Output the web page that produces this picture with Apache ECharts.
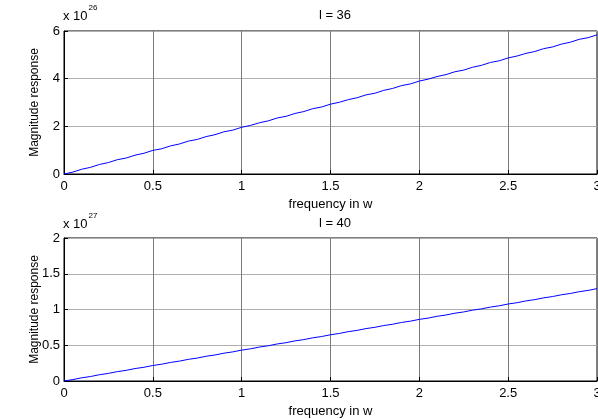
<!DOCTYPE html>
<html>
<head>
<meta charset="utf-8">
<script src="https://cdn.jsdelivr.net/npm/echarts@6/dist/echarts.min.js"></script>
<style>
  html, body { margin: 0; padding: 0; background: #fff; }
  #main { width: 598px; height: 419px; }
</style>
</head>
<body>
<div id="main"></div>
<script>
// frequency samples (w)
var freq = [0, 0.05, 0.1, 0.15, 0.2, 0.25, 0.3, 0.35, 0.4, 0.45, 0.5, 0.55, 0.6, 0.65, 0.7, 0.75, 0.8, 0.85, 0.9, 0.95,
  1, 1.05, 1.1, 1.15, 1.2, 1.25, 1.3, 1.35, 1.4, 1.45, 1.5, 1.55, 1.6, 1.65, 1.7, 1.75, 1.8, 1.85, 1.9, 1.95,
  2, 2.05, 2.1, 2.15, 2.2, 2.25, 2.3, 2.35, 2.4, 2.45, 2.5, 2.55, 2.6, 2.65, 2.7, 2.75, 2.8, 2.85, 2.9, 2.95, 3];

// l = 36, magnitude in units of 1e26
var mag36 = [0, 0.08, 0.20, 0.28, 0.40, 0.48, 0.60, 0.67, 0.79, 0.87, 0.99, 1.06, 1.18, 1.26, 1.38, 1.45, 1.57, 1.65, 1.77, 1.84,
  1.96, 2.04, 2.15, 2.23, 2.35, 2.42, 2.54, 2.62, 2.74, 2.81, 2.93, 3.01, 3.12, 3.20, 3.32, 3.39, 3.51, 3.59, 3.71, 3.78,
  3.90, 3.98, 4.09, 4.17, 4.29, 4.36, 4.48, 4.56, 4.68, 4.75, 4.87, 4.95, 5.06, 5.14, 5.26, 5.33, 5.45, 5.53, 5.65, 5.72, 5.84];

// l = 40, magnitude in units of 1e27
var mag40 = [0, 0.020, 0.045, 0.063, 0.088, 0.106, 0.131, 0.149, 0.174, 0.192, 0.217, 0.235, 0.260, 0.278, 0.303, 0.321, 0.346, 0.364, 0.389, 0.407,
  0.432, 0.450, 0.475, 0.493, 0.518, 0.536, 0.561, 0.579, 0.604, 0.622, 0.647, 0.665, 0.690, 0.708, 0.733, 0.751, 0.776, 0.794, 0.819, 0.837,
  0.862, 0.880, 0.905, 0.923, 0.948, 0.966, 0.991, 1.009, 1.034, 1.052, 1.077, 1.095, 1.120, 1.138, 1.163, 1.181, 1.206, 1.224, 1.249, 1.267, 1.292];

var titles = ['l = 36', 'l = 40'];
var exponents = ['26', '27'];
var yMax = [6, 2];
var yStep = [2, 0.5];

var FONT = 'Liberation Sans, Arial, sans-serif';
var FS = 13;

function pairs(xs, ys) {
  var out = [];
  for (var i = 0; i < xs.length; i++) out.push([xs[i], ys[i]]);
  return out;
}

function makeX(idx) {
  return {
    type: 'value', gridIndex: idx, min: 0, max: 3, interval: 0.5,
    name: 'frequency in w', nameLocation: 'middle', nameGap: 24, nameMoveOverlap: false,
    nameTextStyle: { color: '#000', fontSize: FS, fontFamily: FONT },
    axisLine: { show: true, onZero: false, lineStyle: { color: '#000', width: 1 } },
    axisTick: { show: true, inside: true, length: 4, lineStyle: { color: '#000' } },
    axisLabel: { color: '#000', fontSize: FS, fontFamily: FONT, margin: 6 },
    splitLine: { show: true, lineStyle: { color: '#7a7a7a', width: 1 } }
  };
}

function makeY(idx) {
  return {
    type: 'value', gridIndex: idx, min: 0, max: yMax[idx], interval: yStep[idx],
    name: 'Magnitude response', nameLocation: 'middle', nameGap: 23, nameMoveOverlap: false,
    nameTextStyle: { color: '#000', fontSize: 12, fontFamily: FONT },
    axisLine: { show: true, lineStyle: { color: '#000', width: 1 } },
    axisTick: { show: true, inside: true, length: 4, lineStyle: { color: '#000' } },
    axisLabel: { color: '#000', fontSize: FS, fontFamily: FONT, margin: 4 },
    splitLine: { show: true, lineStyle: { color: '#b0b0b0', width: 1 } }
  };
}

var chart = echarts.init(document.getElementById('main'));
chart.setOption({
  animation: false,
  backgroundColor: '#fff',
  grid: [
    { left: 64, right: 1, top: 31, height: 143, show: true, borderColor: '#000', borderWidth: 1, containLabel: false, outerBoundsMode: 'none' },
    { left: 64, right: 1, top: 238, height: 143, show: true, borderColor: '#000', borderWidth: 1, containLabel: false, outerBoundsMode: 'none' }
  ],
  title: [
    { text: titles[0], left: 330, top: 4, textAlign: 'center', textStyle: { fontSize: FS, fontWeight: 'normal', color: '#000', fontFamily: FONT } },
    { text: titles[1], left: 330, top: 212, textAlign: 'center', textStyle: { fontSize: FS, fontWeight: 'normal', color: '#000', fontFamily: FONT } }
  ],
  graphic: [0, 1].map(function (i) {
    return {
      type: 'text', left: 63, top: i === 0 ? 4 : 212,
      style: {
        text: '{b|x 10}{s|' + exponents[i] + '}',
        rich: {
          b: { fontSize: FS, fontFamily: FONT, fill: '#000', padding: [9, 0, 0, 0] },
          s: { fontSize: 8, fontFamily: FONT, fill: '#000', padding: [0, 0, 8, 1] }
        }
      }
    };
  }),
  xAxis: [makeX(0), makeX(1)],
  yAxis: [makeY(0), makeY(1)],
  series: [
    { type: 'line', xAxisIndex: 0, yAxisIndex: 0, data: pairs(freq, mag36), showSymbol: false,
      lineStyle: { color: '#0000ff', width: 1 }, itemStyle: { color: '#0000ff' } },
    { type: 'line', xAxisIndex: 1, yAxisIndex: 1, data: pairs(freq, mag40), showSymbol: false,
      lineStyle: { color: '#0000ff', width: 1 }, itemStyle: { color: '#0000ff' } }
  ]
});
</script>
</body>
</html>
